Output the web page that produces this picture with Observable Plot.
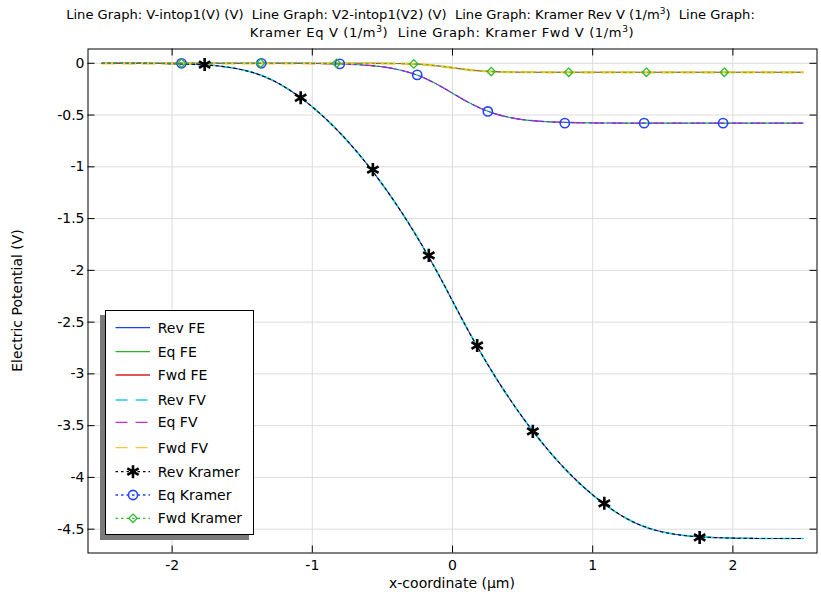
<!DOCTYPE html>
<html><head><meta charset="utf-8">
<script src="https://cdn.jsdelivr.net/npm/d3@7"></script>
<script src="https://cdn.jsdelivr.net/npm/@observablehq/plot@0.6"></script>
<style>
body{margin:0;background:#fff;font-family:"DejaVu Sans",sans-serif;color:#000;}
#title{width:821px;height:46px;font-size:13.1px;line-height:18px;padding-top:6px;box-sizing:border-box;}
#title .l1{text-align:center;white-space:nowrap;}
#title .l2{text-align:center;white-space:nowrap;padding-left:63px;letter-spacing:0.6px;}
sup{font-size:9px;vertical-align:5px;line-height:0;}
#chart svg{display:block;}
</style></head><body>
<div id="title"><div class="l1">Line Graph: V-intop1(V) (V)&nbsp; Line Graph: V2-intop1(V2) (V)&nbsp; Line Graph: Kramer Rev V (1/m<sup>3</sup>)&nbsp; Line Graph:</div><div class="l2">Kramer Eq V (1/m<sup>3</sup>)&nbsp; Line Graph: Kramer Fwd V (1/m<sup>3</sup>)</div></div>
<div id="chart"></div>
<script>
// x grid of curves (µm)
const xs = [-2.5,-2.4,-2.3,-2.2,-2.1,-2.0,-1.9,-1.8,-1.7,-1.6,-1.5,-1.4,-1.3,-1.2,-1.1,-1.0,-0.9,-0.8,-0.7,-0.6,-0.5,-0.4,-0.3,-0.2,-0.1,0,0.1,0.2,0.3,0.4,0.5,0.6,0.7,0.8,0.9,1.0,1.1,1.2,1.3,1.4,1.5,1.6,1.7,1.8,1.9,2.0,2.1,2.2,2.3,2.4,2.5];
// Rev potential (V)
const revV = [0,0,-0.0005,-0.001,-0.002,-0.004,-0.008,-0.013,-0.022,-0.038,-0.063,-0.1,-0.153,-0.226,-0.316,-0.421,-0.541,-0.676,-0.826,-0.991,-1.17,-1.364,-1.573,-1.799,-2.039,-2.295,-2.551,-2.791,-3.017,-3.226,-3.42,-3.599,-3.764,-3.914,-4.049,-4.169,-4.274,-4.364,-4.437,-4.49,-4.527,-4.552,-4.568,-4.577,-4.582,-4.586,-4.588,-4.5895,-4.59,-4.59,-4.59];
// Eq potential (V)
const eqV = [0,0,0,0,0,0,0,0,0,0,0,0,0,0,0,-0.002,-0.004,-0.007,-0.012,-0.02,-0.034,-0.057,-0.092,-0.143,-0.211,-0.289,-0.367,-0.435,-0.486,-0.521,-0.544,-0.558,-0.566,-0.571,-0.574,-0.576,-0.577,-0.578,-0.578,-0.578,-0.578,-0.578,-0.578,-0.578,-0.578,-0.578,-0.578,-0.578,-0.578,-0.578,-0.578];
// Fwd potential (V)
const fwdV = [0,0,0,0,0,0,0,0,0,0,0,0,0,0,0,0,0,0,0,-0.0005,-0.001,-0.0026,-0.006,-0.013,-0.026,-0.0435,-0.061,-0.074,-0.081,-0.0844,-0.086,-0.0865,-0.087,-0.087,-0.087,-0.087,-0.087,-0.087,-0.087,-0.087,-0.087,-0.087,-0.087,-0.087,-0.087,-0.087,-0.087,-0.087,-0.087,-0.087,-0.087];
// Kramer markers
const revKX = [-1.768,-1.083,-0.568,-0.169,0.176,0.573,1.083,1.763];
const revKY = [-0.012,-0.333,-1.027,-1.855,-2.726,-3.555,-4.25,-4.58];
const eqKX = [-1.933,-1.364,-0.804,-0.252,0.252,0.801,1.367,1.93];
const eqKY = [0,0,-0.006,-0.112,-0.465,-0.578,-0.578,-0.578];
const fwdKX = [-1.933,-1.369,-0.827,-0.276,0.276,0.829,1.383,1.939];
const fwdKY = [0,0,0,-0.006,-0.08,-0.087,-0.087,-0.087];
// ticks
const xTicks = [-2,-1,0,1,2];
const yTicks = [0,-0.5,-1,-1.5,-2,-2.5,-3,-3.5,-4,-4.5];
const legendLabels = ["Rev FE","Eq FE","Fwd FE","Rev FV","Eq FV","Fwd FV","Rev Kramer","Eq Kramer","Fwd Kramer"];

const C = {revFE:"#2040ff", eqFE:"#22b522", fwdFE:"#dd1e1e", revFV:"#1ecfe0", eqFV:"#cc2ecc", fwdFV:"#ffc42e", revK:"#000000", eqK:"#2244ff", fwdK:"#2fbb2f"};

const curve = ys => xs.map((x,i)=>({x, y:ys[i]}));
const pts = (X,Y) => X.map((x,i)=>({x, y:Y[i]}));

const W=821, H=550, mL=87.5, mR=4.5, mT=2.5, mB=43.5;
const iW=W-mL-mR, iH=H-mT-mB, TL=7;
const dash="13,7", dot="2.5,3.5";
const FS="14px";

const plot = Plot.plot({
  width:W, height:H, marginLeft:mL, marginRight:mR, marginTop:mT, marginBottom:mB,
  style:{fontFamily:'"DejaVu Sans", sans-serif', fontSize:FS, background:"white", color:"black", overflow:"visible"},
  x:{domain:[-2.6,2.6]},
  y:{domain:[-4.73,0.138]},
  marks:[
    Plot.gridX(xTicks,{stroke:"#dcdcdc", strokeOpacity:1}),
    Plot.gridY(yTicks,{stroke:"#dcdcdc", strokeOpacity:1}),
    Plot.line(curve(revV),{x:"x",y:"y",stroke:C.revFE,strokeWidth:1.1,curve:"monotone-x"}),
    Plot.line(curve(eqV),{x:"x",y:"y",stroke:C.eqFE,strokeWidth:1.1,curve:"monotone-x"}),
    Plot.line(curve(fwdV),{x:"x",y:"y",stroke:C.fwdFE,strokeWidth:1.1,curve:"monotone-x"}),
    Plot.line(curve(revV),{x:"x",y:"y",stroke:C.revFV,strokeWidth:1.6,strokeDasharray:dash,curve:"monotone-x"}),
    Plot.line(curve(eqV),{x:"x",y:"y",stroke:C.eqFV,strokeWidth:1.4,strokeDasharray:dash,curve:"monotone-x"}),
    Plot.line(curve(fwdV),{x:"x",y:"y",stroke:C.fwdFV,strokeWidth:2.2,strokeDasharray:dash,curve:"monotone-x"}),
    Plot.line(curve(revV),{x:"x",y:"y",stroke:C.revK,strokeWidth:1.1,strokeDasharray:dot,curve:"monotone-x"}),
    Plot.line(curve(eqV),{x:"x",y:"y",stroke:C.eqK,strokeWidth:1,strokeDasharray:dot,curve:"monotone-x"}),
    Plot.line(curve(fwdV),{x:"x",y:"y",stroke:C.fwdK,strokeWidth:1,strokeDasharray:dot,curve:"monotone-x"}),
    Plot.dot(pts(revKX,revKY),{x:"x",y:"y",symbol:"asterisk",r:6.2,stroke:C.revK,strokeWidth:2.6}),
    Plot.dot(pts(eqKX,eqKY),{x:"x",y:"y",symbol:"circle",r:4.6,stroke:C.eqK,strokeWidth:1.6,fill:"none"}),
    Plot.dot(pts(fwdKX,fwdKY),{x:"x",y:"y",symbol:"diamond2",r:3.8,stroke:C.fwdK,strokeWidth:1.3,fill:"none"}),
    Plot.tickX(xTicks,{x:d=>d, insetTop:iH-TL, stroke:"black"}),
    Plot.tickX(xTicks,{x:d=>d, insetBottom:iH-TL, stroke:"black"}),
    Plot.tickY(yTicks,{y:d=>d, insetRight:iW-TL, stroke:"black"}),
    Plot.tickY(yTicks,{y:d=>d, insetLeft:iW-TL, stroke:"black"}),
    Plot.axisX(xTicks,{tickSize:0, tickPadding:7, tickFormat:d=>String(d), label:null}),
    Plot.axisY(yTicks,{tickSize:0, tickPadding:3.5, tickFormat:d=>String(d), label:null}),
    Plot.frame({stroke:"black", strokeWidth:1})
  ]
});
document.getElementById("chart").appendChild(plot);

const svg = d3.select(plot);
const F = '"DejaVu Sans", sans-serif';
// axis labels
svg.append("text").attr("x", mL+iW/2).attr("y", 537).attr("text-anchor","middle").attr("dominant-baseline","central")
  .attr("font-family",F).attr("font-size",FS).attr("fill","black").text("x-coordinate (µm)");
svg.append("text").attr("transform",`translate(17,${mT+iH/2}) rotate(-90)`).attr("text-anchor","middle").attr("dominant-baseline","central")
  .attr("font-family",F).attr("font-size",FS).attr("fill","black").text("Electric Potential (V)");

// legend
const lg = svg.append("g").attr("text-anchor","start");
lg.append("rect").attr("x",100).attr("y",269).attr("width",149).attr("height",225).attr("fill","#7a7a7a");
lg.append("rect").attr("x",105.5).attr("y",264.5).attr("width",148).attr("height",224).attr("fill","white").attr("stroke","black").attr("stroke-width",1);
const rowsY = [281.7,305.7,329,354,376.3,401.7,425.7,449,472.3];
const legStyle = [
  {c:C.revFE, d:null}, {c:C.eqFE, d:null}, {c:C.fwdFE, d:null},
  {c:C.revFV, d:dash}, {c:C.eqFV, d:dash}, {c:C.fwdFV, d:dash},
  {c:C.revK, d:dot, m:"asterisk"}, {c:C.eqK, d:dot, m:"circle"}, {c:C.fwdK, d:dot, m:"diamond2"}
];
legendLabels.forEach((t,i)=>{
  const y = rowsY[i], s = legStyle[i];
  const ln = lg.append("line").attr("x1",115.5).attr("x2",150).attr("y1",y).attr("y2",y).attr("stroke",s.c).attr("stroke-width",1.3);
  if (s.d) ln.attr("stroke-dasharray", s.d === dash ? "12,8" : "2.5,3");
  if (s.m === "asterisk") lg.append("path").attr("d", d3.symbol(d3.symbolAsterisk, Math.PI*6.2*6.2)()).attr("transform",`translate(133,${y})`).attr("stroke",s.c).attr("stroke-width",2.6).attr("fill","none");
  if (s.m === "circle") lg.append("circle").attr("cx",133).attr("cy",y).attr("r",4.6).attr("stroke",s.c).attr("stroke-width",1.6).attr("fill","none");
  if (s.m === "diamond2") lg.append("path").attr("d", d3.symbol(d3.symbolDiamond2, Math.PI*3.8*3.8)()).attr("transform",`translate(133,${y})`).attr("stroke",s.c).attr("stroke-width",1.3).attr("fill","none");
  lg.append("text").attr("x",157.7).attr("y",y).attr("text-anchor","start").attr("dominant-baseline","central").attr("font-family",F).attr("font-size",FS).attr("fill","black").text(t);
});
</script>
</body></html>
